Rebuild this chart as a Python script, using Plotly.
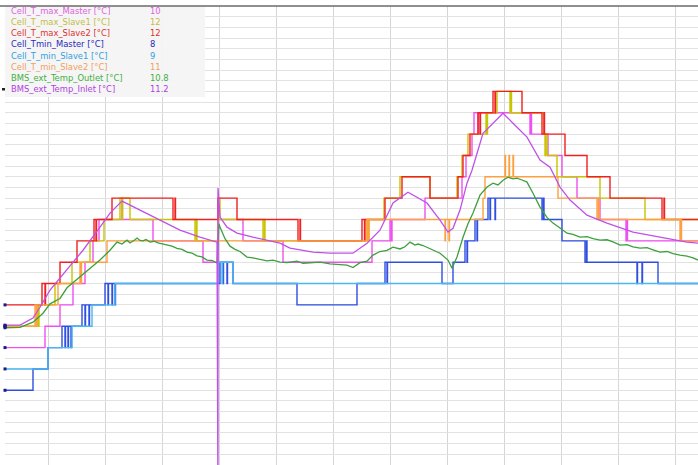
import plotly.graph_objects as go

# ---------------- data (time in s, temperatures in °C) ----------------
t_max_master = [0,400,550,680,800,880,940,1170,1175,1480,1980,2130,2380,2780,3670,3850,3865,3870,4200,4570,4610,4670,4690,4730,4735,5250,5260,5265,5430,5570,5720,5950,6210,6220,6225,6930]
v_max_master = [5,6,7,8,9,10,11,12,11,10,9,11,10,9,10,11,10,11,12,13,14,15,16,15,16,15,16,15,14,13,12,11,10,11,10,10]

t_max_slave1 = [0,320,335,340,500,670,850,990,1150,1170,1175,1250,1900,1915,1920,2130,2150,2580,2595,2600,3620,3635,3640,3790,3950,4250,4520,4570,4630,4810,4820,4825,4920,5050,5060,5065,5390,5400,5405,5420,5520,5950,6400,6930]
v_max_slave1 = [6,7,6,7,8,9,10,11,12,11,12,11,10,11,10,12,11,10,11,10,11,10,11,12,13,12,13,14,15,16,15,16,17,16,17,16,15,14,15,14,13,12,11,11]

t_max_slave2 = [0,370,400,405,550,720,890,910,915,1070,1680,1700,1705,2130,2320,2930,2950,2955,3570,3595,3600,3800,3970,4250,4530,4580,4650,4730,4750,4755,4880,4900,4905,5170,5370,5390,5395,5600,5820,6050,6570,6590,6595,6930]
v_max_slave2 = [7,8,7,8,9,10,11,10,11,12,11,12,11,12,11,10,11,10,11,10,11,12,13,12,13,14,15,16,15,16,17,16,17,16,15,16,15,14,13,12,11,12,11,11]

t_min_master = [0,280,430,570,600,605,630,635,660,665,770,800,805,840,845,1000,1030,1035,1070,1075,1100,1105,2150,2180,2185,2220,2225,2280,2920,3520,3800,3820,3825,4370,4480,4600,4620,4625,4700,4720,4725,4830,4850,4855,4900,4905,5370,5385,5390,5570,5800,5815,5820,6320,6325,6370,6375,6530,6930]
v_min_master = [3,4,5,6,5,6,5,6,5,6,7,6,7,6,7,8,7,8,7,8,7,8,9,8,9,8,9,8,7,8,9,8,9,8,9,10,9,10,11,10,11,12,11,12,11,12,11,12,11,10,9,10,9,8,9,8,9,8,8]

t_min_slave1 = [0,430,670,870,1100,2130,2170,2175,2280,6930]
v_min_slave1 = [4,5,6,7,8,9,8,9,8,8]

t_min_slave2 = [0,300,315,320,530,750,760,765,1020,3620,3635,3640,4400,4405,4440,4445,4780,4800,5000,5005,5040,5045,5080,5085,5530,5920,5935,5940,6750,6760,6765,6930]
v_min_slave2 = [6,7,6,7,8,9,8,9,10,11,10,11,10,11,10,11,12,13,14,13,14,13,14,13,12,11,12,11,10,11,10,10]

t_outlet = [0,150,280,380,450,550,620,750,850,950,1050,1120,1170,1200,1220,1250,1270,1300,1320,1350,1380,1410,1450,1490,1530,1570,1620,1670,1720,1770,1820,1870,1920,1970,2020,2070,2120,
            2140,2150,2200,2250,2300,2350,2420,2480,2550,2620,2680,2750,2820,2920,2980,3080,3150,3250,3330,3420,3480,3550,3620,3680,3750,3820,3880,3950,4000,4050,4100,4130,4180,4220,4280,4350,4430,4470,4520,4580,4630,4680,4750,4820,4880,4930,4980,5030,5080,5120,5170,5220,5280,5350,5420,5480,5550,5620,5680,5750,5820,5880,5950,6020,6080,6150,6220,6280,6350,6420,6480,6550,6620,6680,6750,6820,6880,6930]
v_outlet = [5.93,5.95,6.19,6.61,7.05,7.3,7.8,8.3,8.7,9.1,9.56,9.94,9.85,9.98,10.03,9.9,9.95,10.05,10.13,10.02,10.0,10.06,9.94,9.98,9.9,9.85,9.80,9.75,9.65,9.6,9.47,9.42,9.3,9.25,9.10,9.08,8.96,
            10.8,10.65,10.1,9.75,9.6,9.5,9.24,9.2,9.12,9.06,9.1,9.0,8.98,9.05,8.95,8.96,9.0,8.92,8.9,8.86,8.75,8.98,9.05,9.33,9.5,9.55,9.70,9.62,9.72,9.94,9.8,9.85,9.78,9.70,9.55,9.42,9.10,8.72,9.24,10.17,10.8,11.30,12.14,12.52,12.70,12.62,12.84,12.98,12.9,12.94,12.85,12.75,12.23,11.58,11.1,10.83,10.6,10.36,10.3,10.17,10.2,10.1,10.03,10.05,9.95,9.80,9.82,9.72,9.66,9.68,9.58,9.47,9.5,9.4,9.33,9.28,9.2,9.10]

t_inlet = [0,150,280,350,450,620,780,950,1050,1170,1350,1550,1750,1950,2120,2130,2130,2150,2220,2320,2480,2750,2850,3080,3250,3480,3620,3750,3880,4030,4220,4350,4430,4480,4550,4620,4670,4780,4880,4980,5080,5220,5350,5450,5550,5650,5820,6020,6280,6550,6820,6930]
v_inlet = [6.05,6.05,6.38,6.89,7.69,8.63,9.56,10.64,11.30,11.86,11.44,10.97,10.50,10.17,9.94,-3,12.47,11.11,10.64,10.36,10.17,9.89,9.66,9.47,9.42,9.42,9.89,10.50,11.77,12.28,11.77,10.97,10.41,10.59,11.44,12.70,13.31,15.04,15.51,15.98,15.51,14.86,13.78,13.45,12.52,11.91,11.20,10.83,10.41,10.17,9.94,9.89]

names = ["Cell_T_max_Master [°C]", "Cell_T_max_Slave1 [°C]", "Cell_T_max_Slave2 [°C]",
         "Cell_Tmin_Master [°C]", "Cell_T_min_Slave1 [°C]", "Cell_T_min_Slave2 [°C]",
         "BMS_ext_Temp_Outlet [°C]", "BMS_ext_Temp_Inlet [°C]"]
cursor_values = ["10", "12", "12", "8", "9", "11", "10.8", "11.2"]

line_colors = ["#f050f0", "#c8c400", "#f02020", "#2f4fe0", "#48b8f0", "#ffa040", "#3ca03c", "#c050e8"]
line_widths = [1.4, 1.4, 1.4, 1.4, 1.4, 1.4, 1.3, 1.3]
text_colors = ["#e060e0", "#c4bc40", "#e03030", "#2828b8", "#30a0e0", "#f0a060", "#40b040", "#b040e0"]

series = [
    (t_max_master, v_max_master, "hv"),
    (t_max_slave1, v_max_slave1, "hv"),
    (t_max_slave2, v_max_slave2, "hv"),
    (t_min_master, v_min_master, "hv"),
    (t_min_slave1, v_min_slave1, "hv"),
    (t_min_slave2, v_min_slave2, "hv"),
    (t_outlet, v_outlet, "linear"),
    (t_inlet, v_inlet, "linear"),
]

fig = go.Figure()
for (t, v, shp), nm, col, lw in zip(series, names, line_colors, line_widths):
    fig.add_trace(go.Scatter(x=t, y=v, mode="lines", name=nm,
                             line=dict(color=col, width=lw, shape=shp)))

# start markers of each signal
fig.add_trace(go.Scatter(x=[s[0][0] for s in series], y=[s[1][0] for s in series],
                         mode="markers", marker=dict(symbol="square", size=3, color="#1a1a90"),
                         showlegend=False, cliponaxis=False))

W, H = 698, 465
ml, mt = 5, 6
pw, ph = W - ml, H - mt

def px_x(p):
    return (p - ml) / pw

def px_y(p):
    return 1 - (p - mt) / ph

shapes = [
    dict(type="rect", xref="paper", yref="paper", x0=px_x(5), x1=px_x(205), y0=px_y(97), y1=px_y(6),
         fillcolor="rgba(244,244,244,0.95)", line=dict(width=0), layer="above"),
    dict(type="line", xref="paper", yref="paper", x0=px_x(0), x1=1, y0=1, y1=1,
         line=dict(color="#6a6a6a", width=1.5)),
    dict(type="rect", xref="paper", yref="paper", x0=px_x(2), x1=px_x(5), y0=px_y(90.5), y1=px_y(88),
         fillcolor="#222222", line=dict(width=0)),
]

annotations = []
for i, (nm, val, tc) in enumerate(zip(names, cursor_values, text_colors)):
    yy = px_y(11 + 11.14 * i)
    annotations.append(dict(text=nm, xref="paper", yref="paper", x=px_x(9), y=yy,
                            xanchor="left", yanchor="middle", showarrow=False,
                            font=dict(family="DejaVu Sans", size=8.4, color=tc)))
    annotations.append(dict(text=val, xref="paper", yref="paper", x=px_x(148), y=yy,
                            xanchor="left", yanchor="middle", showarrow=False,
                            font=dict(family="DejaVu Sans", size=8.4, color=tc)))

fig.update_layout(
    width=W, height=H,
    margin=dict(l=ml, r=0, t=mt, b=0),
    paper_bgcolor="white", plot_bgcolor="white",
    showlegend=False,
    shapes=shapes, annotations=annotations,
    xaxis=dict(range=[0, 6930], showticklabels=False, ticks="", zeroline=False, showline=False,
               showgrid=True, gridcolor="#d6d6d6", gridwidth=1, tick0=430, dtick=570),
    yaxis=dict(range=[-0.5, 21.0], showticklabels=False, ticks="", zeroline=False, showline=False,
               showgrid=True, gridcolor="#e2e2e2", gridwidth=1, tick0=0, dtick=0.5),
)

fig.write_html("out.html", config={"displayModeBar": False},
               post_script="document.body.style.margin='0';document.body.style.overflow='hidden';")
